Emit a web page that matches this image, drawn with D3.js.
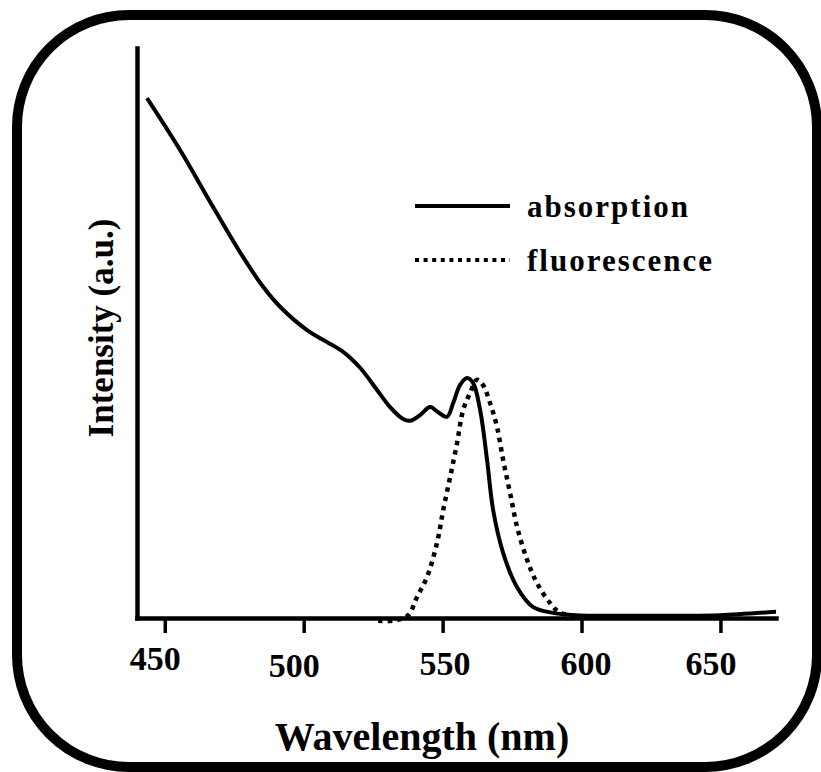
<!DOCTYPE html>
<html>
<head>
<meta charset="utf-8">
<script src="https://cdn.jsdelivr.net/npm/d3@7"></script>
<style>
  html, body { margin: 0; padding: 0; background: #fff; }
  svg { display: block; }
  text { font-family: "Liberation Serif", "Times New Roman", serif; font-weight: bold; fill: #000; }
</style>
</head>
<body>
<svg id="chart" width="821" height="772"></svg>
<script>
// ---- data ----
const absWavelength = [443.6, 455.5, 467.4, 478.2, 485.4, 491.5, 501.2, 508.4, 514.2, 520.3, 526.4, 531.1, 535.8, 538.3, 541.9, 545.5, 548.4, 551.6, 553.8, 556.3, 558.8, 561.0, 563.5, 566.0, 568.2, 571.8, 576.8, 582.6, 589.8, 597.7, 613.9, 635.5, 649.9, 670.0];
const absIntensity  = [0.912, 0.821, 0.721, 0.633, 0.581, 0.546, 0.505, 0.484, 0.467, 0.439, 0.400, 0.370, 0.349, 0.346, 0.356, 0.370, 0.361, 0.353, 0.377, 0.409, 0.421, 0.412, 0.365, 0.277, 0.189, 0.114, 0.054, 0.019, 0.009, 0.005, 0.004, 0.004, 0.005, 0.011];
const fluWavelength = [526.8, 532.9, 537.6, 540.8, 544.4, 548.0, 550.2, 552.7, 555.2, 557.4, 559.9, 562.4, 564.5, 567.1, 569.6, 571.8, 574.3, 576.8, 580.4, 584.0, 588.7, 592.3, 597.7];
const fluIntensity  = [-0.005, -0.004, 0.005, 0.037, 0.072, 0.132, 0.189, 0.247, 0.307, 0.365, 0.395, 0.418, 0.409, 0.377, 0.335, 0.277, 0.219, 0.160, 0.102, 0.061, 0.026, 0.009, 0.004];
const xTicks = [450, 500, 550, 600, 650];
const seriesNames = ["absorption", "fluorescence"];
const xTitle = "Wavelength (nm)";
const yTitle = "Intensity (a.u.)";

// ---- layout ----
const svg = d3.select("#chart");
const x = d3.scaleLinear().domain([440, 670]).range([137, 776]);
const y = d3.scaleLinear().domain([0, 1]).range([618, 48]);

// small per-label nudges seen in the reference (layout only)
const labelNudge = { 450: [-10, -4], 500: [-10, 3], 550: [2, 1], 600: [4, 1], 650: [-10, 1] };

// rounded frame
svg.append("rect")
  .attr("x", 17).attr("y", 15)
  .attr("width", 800).attr("height", 752)
  .attr("rx", 112).attr("ry", 112)
  .attr("fill", "none").attr("stroke", "#000").attr("stroke-width", 10);

// x axis
const xAxis = svg.append("g")
  .attr("transform", `translate(0,${y(0)})`)
  .call(d3.axisBottom(x).tickValues(xTicks).tickSize(15).tickSizeOuter(0).tickFormat(d3.format("d")));
xAxis.select(".domain").attr("stroke-width", 4.5).attr("stroke-linecap", "square");
xAxis.selectAll(".tick line").attr("stroke-width", 3.5);
xAxis.selectAll(".tick text")
  .attr("y", d => 56 + labelNudge[d][1]).attr("dy", 0).attr("dx", d => labelNudge[d][0])
  .style("font-size", "34px").style("font-family", "'Liberation Serif', serif").style("font-weight", "bold");

// y axis (no ticks)
const yAxis = svg.append("g")
  .attr("transform", `translate(${x.range()[0]},0)`)
  .call(d3.axisLeft(y).tickValues([]).tickSizeOuter(0));
yAxis.select(".domain").attr("stroke-width", 4.5).attr("stroke-linecap", "square");

// curves
const line = d3.line().x(d => x(d[0])).y(d => y(d[1])).curve(d3.curveCatmullRom.alpha(0.5));
const absData = absWavelength.map((w, i) => [w, absIntensity[i]]);
const fluData = fluWavelength.map((w, i) => [w, fluIntensity[i]]);

svg.append("path").datum(fluData)
  .attr("d", line).attr("fill", "none").attr("stroke", "#000")
  .attr("stroke-width", 4.5).attr("stroke-dasharray", "4.5,5");
svg.append("path").datum(absData)
  .attr("d", line).attr("fill", "none").attr("stroke", "#000")
  .attr("stroke-width", 4);

// legend
const legend = svg.append("g");
const legY = [206, 260];
seriesNames.forEach((name, i) => {
  legend.append("line")
    .attr("x1", 415).attr("x2", 510).attr("y1", legY[i]).attr("y2", legY[i])
    .attr("stroke", "#000").attr("stroke-width", 4)
    .attr("stroke-dasharray", i === 1 ? "4,4.6" : null);
  legend.append("text")
    .attr("x", 527).attr("y", legY[i] + 11)
    .style("font-size", "31px").style("letter-spacing", "2px")
    .text(name);
});

// axis titles
svg.append("text")
  .attr("x", 422).attr("y", 750).attr("text-anchor", "middle")
  .style("font-size", "40px")
  .text(xTitle);
svg.append("text")
  .attr("transform", "translate(113,328) rotate(-90)")
  .attr("text-anchor", "middle")
  .style("font-size", "35px")
  .text(yTitle);
</script>
</body>
</html>
